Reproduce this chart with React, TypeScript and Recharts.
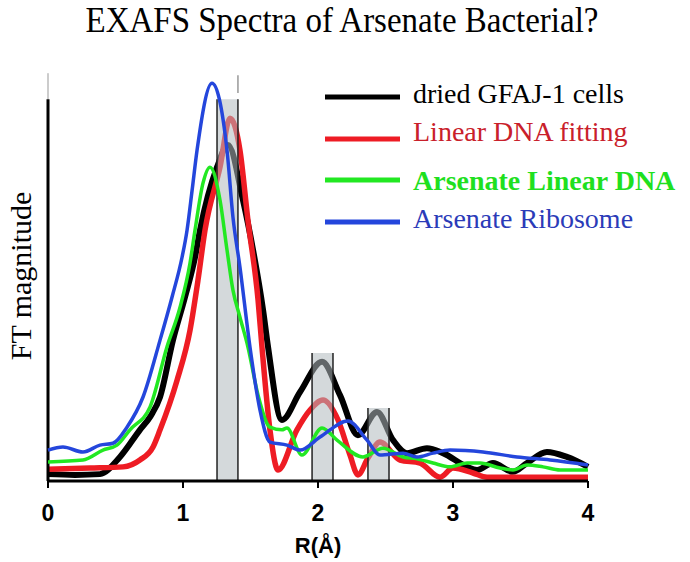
import React from 'react';
import { LineChart, Line, XAxis, YAxis, ReferenceArea, ReferenceLine } from 'recharts';

// R (Å) vs FT magnitude
const driedCells: [number, number][] = [
  [0, 0.18], [0.2, 0.16], [0.385, 0.18], [0.533, 0.63], [0.681, 1.34], [0.76, 1.7], [0.83, 2.2],
  [0.926, 3.69], [1.015, 4.82], [1.089, 5.86], [1.126, 6.57], [1.252, 8.22], [1.333, 8.8], [1.444, 7.36],
  [1.519, 6.05], [1.593, 4.48], [1.63, 3.51], [1.733, 1.6], [1.867, 2.33], [2.03, 3.12], [2.163, 2.25],
  [2.296, 1.2], [2.437, 1.81], [2.556, 1.07], [2.659, 0.73], [2.807, 0.86], [2.926, 0.73], [3.104, 0.37],
  [3.178, 0.29], [3.296, 0.47], [3.444, 0.24], [3.548, 0.47], [3.696, 0.76], [3.844, 0.63], [4.0, 0.37],
];

const linearFit: [number, number][] = [
  [0, 0.31], [0.311, 0.34], [0.556, 0.37], [0.681, 0.55], [0.778, 0.89], [0.83, 1.34], [0.956, 2.64],
  [1.052, 3.95], [1.111, 5.26], [1.163, 6.57], [1.274, 8.22], [1.348, 9.5], [1.422, 8.66], [1.481, 6.83],
  [1.556, 4.74], [1.585, 3.51], [1.644, 1.34], [1.704, 0.29], [1.844, 1.34], [1.941, 1.86], [2.037, 2.12],
  [2.148, 1.6], [2.237, 0.68], [2.296, 0.16], [2.37, 0.6], [2.459, 1.02], [2.607, 0.55], [2.756, 0.47],
  [2.904, 0.1], [3.0, 0.34], [3.148, 0.21], [3.252, 0.1], [3.593, 0.1], [4.0, 0.1],
];

const arsenateDNA: [number, number][] = [
  [0, 0.5], [0.259, 0.55], [0.407, 0.81], [0.511, 0.94], [0.607, 1.34], [0.756, 1.94], [0.881, 3.51],
  [0.978, 4.55], [1.052, 5.71], [1.089, 6.57], [1.148, 7.8], [1.2, 8.22], [1.274, 7.36], [1.326, 6.05],
  [1.37, 5.0], [1.422, 4.29], [1.481, 3.51], [1.556, 2.25], [1.644, 1.41], [1.733, 1.34], [1.77, 1.39],
  [1.881, 0.68], [2.03, 1.39], [2.141, 1.07], [2.333, 0.63], [2.481, 0.86], [2.63, 0.63], [2.733, 0.58],
  [2.852, 0.47], [2.978, 0.37], [3.104, 0.47], [3.2, 0.47], [3.348, 0.34], [3.444, 0.29], [3.548, 0.42],
  [3.667, 0.37], [3.793, 0.29], [4.0, 0.29],
];

const arsenateRibosome: [number, number][] = [
  [0, 0.81], [0.111, 0.89], [0.259, 0.76], [0.385, 0.94], [0.481, 0.99], [0.585, 1.41], [0.704, 2.2],
  [0.83, 3.69], [0.919, 4.82], [0.993, 5.86], [1.03, 6.57], [1.067, 7.6], [1.104, 8.66], [1.215, 10.42],
  [1.326, 8.66], [1.37, 6.91], [1.422, 5.6], [1.496, 3.51], [1.57, 1.86], [1.644, 1.02], [1.77, 0.94],
  [1.867, 0.81], [2.015, 1.15], [2.222, 1.57], [2.363, 1.07], [2.459, 0.68], [2.63, 0.73], [2.733, 0.63],
  [2.852, 0.73], [2.978, 0.81], [3.222, 0.76], [3.474, 0.63], [3.719, 0.55], [4.0, 0.42],
];

// shaded R windows: [from, to, height]
const bands: [number, number, number][] = [
  [1.252, 1.407, 10.0],
  [1.956, 2.111, 3.35],
  [2.37, 2.526, 1.91],
];

const xTicks = [0, 1, 2, 3, 4];

const series = [
  { name: 'dried GFAJ-1 cells', points: driedCells, color: '#000000', text: '#000000', width: 6, bold: false },
  { name: 'Linear DNA fitting', points: linearFit, color: '#ee1c24', text: '#c9202a', width: 5.5, bold: false },
  { name: 'Arsenate Linear DNA', points: arsenateDNA, color: '#22e822', text: '#1fe01f', width: 3.5, bold: true },
  { name: 'Arsenate Ribosome', points: arsenateRibosome, color: '#2446dc', text: '#2b3bb8', width: 3.5, bold: false },
];

const toRows = (pts: [number, number][]) => pts.map(([r, v]) => ({ r, v }));

const serif = '"Liberation Serif", "Times New Roman", serif';
const sans = '"Liberation Sans", Arial, sans-serif';

const legendY = [97, 139, 180, 222];
const legendBase = [103, 141, 190, 228];

export default function App() {
  const lower = series.slice(0, 2);
  const upper = series.slice(2);

  return (
    <div style={{ position: 'absolute', left: 0, top: 0, width: 690, height: 562, background: '#fff' }}>
      <LineChart width={690} height={562} margin={{ top: 61, right: 102, bottom: 21, left: 48 }}>
        <XAxis
          dataKey="r"
          type="number"
          domain={[0, 4]}
          ticks={xTicks}
          height={60}
          axisLine={{ stroke: '#000', strokeWidth: 3 }}
          tickLine={{ stroke: '#000', strokeWidth: 2 }}
          tickSize={7}
          tickMargin={17}
          tick={{ fill: '#000', fontSize: 23, fontWeight: 'bold', fontFamily: sans }}
        />
        <YAxis hide type="number" domain={[0, 11]} />
        {lower.map((s) => (
          <Line
            key={s.name}
            data={toRows(s.points)}
            dataKey="v"
            type="monotone"
            stroke={s.color}
            strokeWidth={s.width}
            dot={false}
            isAnimationActive={false}
            zIndex={400}
          />
        ))}
        {bands.map(([a, b, h], i) => (
          <ReferenceArea
            key={'band' + i}
            x1={a}
            x2={b}
            y1={0}
            y2={h}
            fill="#b0b9be"
            fillOpacity={0.55}
            stroke="none"
            zIndex={450}
          />
        ))}
        {bands.map(([a, b, h], i) => (
          <React.Fragment key={'edge' + i}>
            <ReferenceLine segment={[{ x: a, y: 0 }, { x: a, y: h }]} stroke="#222" strokeWidth={1.5} zIndex={460} />
            <ReferenceLine segment={[{ x: b, y: 0 }, { x: b, y: h }]} stroke="#222" strokeWidth={1.5} zIndex={460} />
          </React.Fragment>
        ))}
        <ReferenceLine segment={[{ x: 1.407, y: 10.16 }, { x: 1.407, y: 10.63 }]} stroke="#999" strokeWidth={1.5} zIndex={460} />
        <ReferenceLine segment={[{ x: 0, y: 10 }, { x: 0, y: 10.68 }]} stroke="#999" strokeWidth={1} zIndex={460} />
        <ReferenceLine segment={[{ x: 0, y: 0 }, { x: 0, y: 10 }]} stroke="#000" strokeWidth={3} zIndex={460} />
        {upper.map((s) => (
          <Line
            key={s.name}
            data={toRows(s.points)}
            dataKey="v"
            type="monotone"
            stroke={s.color}
            strokeWidth={s.width}
            dot={false}
            isAnimationActive={false}
            zIndex={500}
          />
        ))}
      </LineChart>
      <svg
        width={690}
        height={562}
        style={{ position: 'absolute', left: 0, top: 0, pointerEvents: 'none' }}
      >
        <text
          x={0}
          y={0}
          transform="translate(342,32) scale(1,1.1)"
          textAnchor="middle"
          fontFamily={serif}
          fontSize={33}
          fill="#000"
        >
          EXAFS Spectra of Arsenate Bacterial?
        </text>
        <text
          x={0}
          y={0}
          transform="translate(31,276) rotate(-90)"
          textAnchor="middle"
          fontFamily={serif}
          fontSize={30}
          fill="#000"
        >
          FT magnitude
        </text>
        <text x={318} y={553} textAnchor="middle" fontFamily={sans} fontSize={22} fontWeight="bold" fill="#000">
          R(Å)
        </text>
        {series.map((s, i) => (
          <g key={s.name}>
            <line x1={325} x2={400} y1={legendY[i]} y2={legendY[i]} stroke={s.color} strokeWidth={5} />
            <text
              x={413}
              y={legendBase[i]}
              fontFamily={serif}
              fontSize={28}
              fontWeight={s.bold ? 'bold' : 'normal'}
              fill={s.text}
            >
              {s.name}
            </text>
          </g>
        ))}
      </svg>
    </div>
  );
}
